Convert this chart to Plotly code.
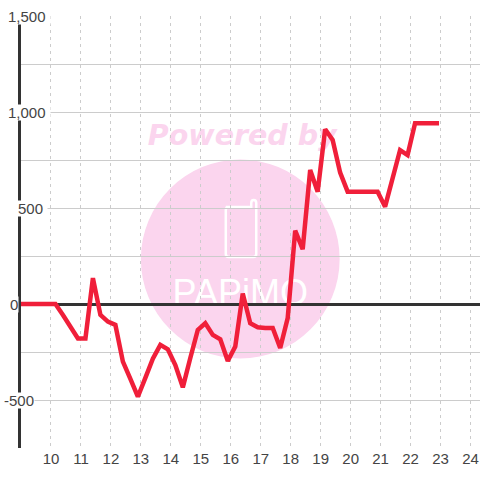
import plotly.graph_objects as go

hours = [8.95,9.4,9.65,9.9,10.15,10.4,10.65,10.9,11.15,11.4,11.65,11.9,12.15,12.4,
         12.65,12.9,13.15,13.4,13.65,13.9,14.15,14.4,14.65,14.9,15.15,15.4,15.65,15.9,
         16.15,16.4,16.65,16.9,17.15,17.4,17.65,17.9,18.15,18.4,18.65,18.9,19.15,19.4,
         19.65,19.9,20.15,20.4,20.65,20.9,21.15,21.4,21.65,21.9,22.15,22.4,22.65,22.95]
profit = [0,0,0,0,0,-57,-118,-180,-180,135,-57,-92,-109,-300,
          -390,-483,-385,-285,-213,-236,-318,-434,-281,-135,-100,-161,-184,-297,
          -222,55,-100,-121,-125,-125,-229,-73,382,285,698,585,910,854,
          684,585,585,585,585,585,507,655,802,776,941,941,941,941]
y_tick_values = [1500, 1000, 500, 0, -500]
y_tick_labels = ["1,500", "1,000", "500", "0", "-500"]
y_label_left_px = [6, 6, 16, 8, 2]
y_label_pad = ["\u00a0", "\u00a0", "\u00a0", "", ""]
x_ticks = list(range(10, 25))

W, H = 480, 480
L, R, T, B = 20.5, 0, 16, 32
PW, PH = W - L - R, H - T - B
px = lambda v: (v - L) / PW
py = lambda v: 1 - (v - T) / PH
PINK = "#fbd5ee"

phone = ("M {a},{t} L {c},{t} L {c},{u} Q {c},{v} {d},{v} Q {e},{v} {e},{u} L {e},{bb} "
         "Q {e},{b} {f},{b} L {g},{b} Q {a},{b} {a},{bb} L {a},{h} Q {a},{t} {i},{t} Z").format(
    a=px(225.5), c=px(251), d=px(253.5), e=px(256), f=px(253), g=px(228.5), i=px(228.5),
    t=py(207), u=py(203), v=py(200), b=py(257), bb=py(254), h=py(210))

shapes = [
    dict(type="circle", xref="paper", yref="paper", layer="below", x0=px(140.5), x1=px(339.5), y0=py(358.5), y1=py(159.5),
         fillcolor=PINK, line=dict(width=0)),
    dict(type="path", xref="paper", yref="paper", layer="below", path=phone,
         fillcolor="rgba(0,0,0,0)", line=dict(color="white", width=2.5)),
    dict(type="rect", xref="paper", yref="paper", layer="below", x0=px(140), x1=px(344), y0=py(149), y1=py(117),
         fillcolor="rgba(0,0,0,0)", line=dict(width=0),
         label=dict(text="<b><i>Powered by</i></b>", textposition="middle center",
                    font=dict(family="DejaVu Sans", size=28.5, color=PINK))),
    dict(type="rect", xref="paper", yref="paper", layer="below", x0=px(165), x1=px(315), y0=py(310), y1=py(268),
         fillcolor="rgba(0,0,0,0)", line=dict(width=0),
         label=dict(text="PAPiMO", textposition="middle center",
                    font=dict(family="Liberation Sans", size=36, color="white"))),
]

annotations = [
    dict(x=px(lp), xref="paper", y=v, yref="y", text=t + pad, showarrow=False, xanchor="left", yanchor="middle",
         font=dict(family="Liberation Sans", size=15, color="#444"), bgcolor="white", borderpad=0, height=15)
    for v, t, lp, pad in zip(y_tick_values, y_tick_labels, y_label_left_px, y_label_pad)
]

fig = go.Figure(go.Scatter(x=hours, y=profit, mode="lines", hoverinfo="skip", cliponaxis=False,
                           line=dict(color="#f01f3a", width=4.5)))
fig.update_layout(
    width=W, height=H, autosize=False, showlegend=False,
    margin=dict(l=L, r=R, t=T, b=B, pad=0),
    paper_bgcolor="white", plot_bgcolor="white",
    shapes=shapes, annotations=annotations,
    xaxis=dict(range=[9, 24.317], tickvals=x_ticks, ticks="", showline=False, zeroline=False,
               showgrid=True, gridcolor="#cccccc", gridwidth=1, griddash="3px,4px",
               tickfont=dict(family="Liberation Sans", size=15, color="#444")),
    yaxis=dict(range=[-750, 1500], dtick=250, showticklabels=False, ticks="",
               showgrid=True, gridcolor="#cccccc", gridwidth=1,
               zeroline=True, zerolinecolor="#333333", zerolinewidth=3,
               showline=True, linecolor="#333333", linewidth=3),
)
fig.write_html("out.html", config=dict(displayModeBar=False),
               post_script="document.body.style.margin='0';document.documentElement.style.overflow='hidden';")
